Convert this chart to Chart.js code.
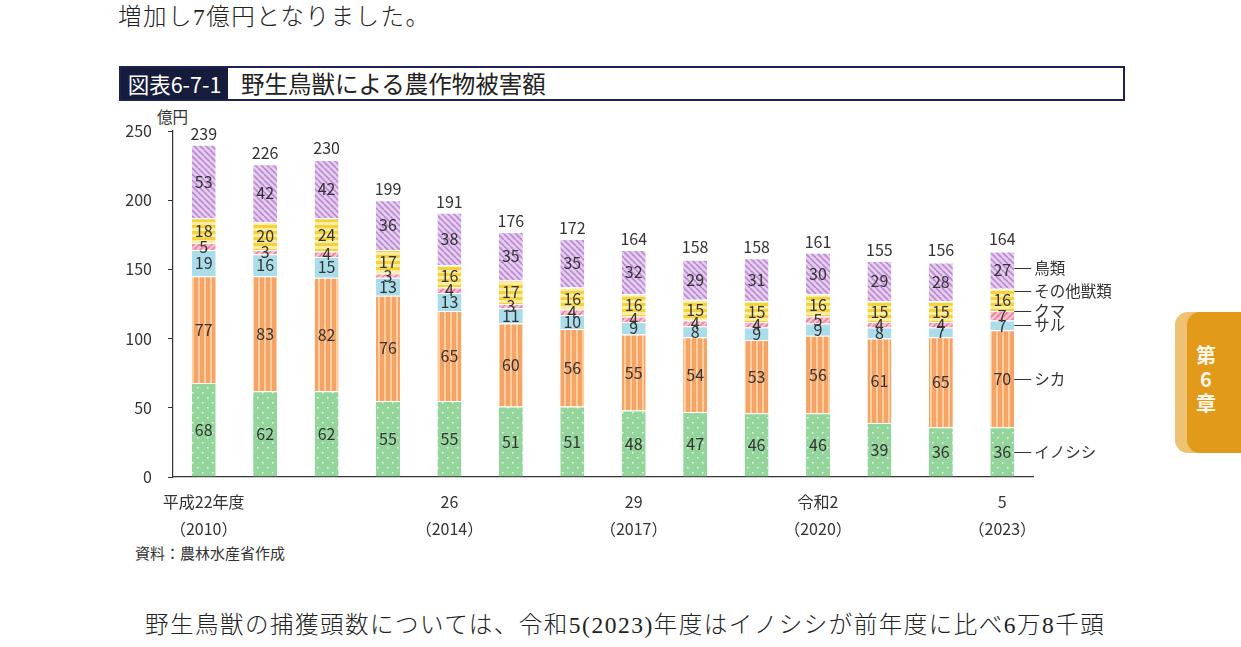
<!DOCTYPE html>
<html lang="ja">
<head>
<meta charset="utf-8">
<script src="https://cdn.jsdelivr.net/npm/chart.js@4"></script>
<style>
  html, body { margin: 0; padding: 0; background: #fff; }
  body { width: 1241px; height: 647px; position: relative; overflow: hidden; }
  .txt { position: absolute; white-space: nowrap; color: #222; }
  .serif { font-family: "Liberation Serif", "DejaVu Serif", "Noto Sans CJK JP", serif; font-size: 23.5px; font-weight: 300; letter-spacing: 1.5px; }
  .sans { font-family: "Noto Sans CJK JP", sans-serif; }
  #titlebox { position: absolute; left: 119px; top: 66px; width: 1002px; height: 31px; border: 2px solid #1b2352; }
  #titlebox .tag { position: absolute; left: 0; top: 0; height: 31px; width: 107px; background: #161c3c; color: #fff;
    font-family: "Noto Sans CJK JP", sans-serif; font-size: 21.5px; line-height: 31px; text-align: center; }
  #titlebox .name { position: absolute; left: 120px; top: 0; line-height: 31px; font-family: "Noto Sans CJK JP", sans-serif; font-size: 23.5px; color: #222; }
  #tab1 { position: absolute; left: 1175px; top: 312px; width: 80px; height: 141px; background: #efc173; border-radius: 13px; }
  #tab2 { position: absolute; left: 1187px; top: 312px; width: 80px; height: 141px; background: #e29a1a; border-radius: 13px; }
  #tabtext { position: absolute; left: 1192px; top: 343px; width: 28px; text-align: center; color: #fff8ea;
    font-family: "Noto Sans CJK JP", sans-serif; font-weight: bold; font-size: 20px; line-height: 24px; }
  canvas { position: absolute; left: 0; top: 0; }
</style>
</head>
<body>
<div class="txt serif" style="left:118px; top:-2px;">増加し7億円となりました。</div>
<div id="titlebox"><div class="tag">図表6-7-1</div><div class="name">野生鳥獣による農作物被害額</div></div>
<div class="txt sans" style="left:157px; top:105px; font-size:15.5px; color:#333;">億円</div>
<div class="txt sans" style="left:135px; top:542px; font-size:15px; color:#333;">資料：農林水産省作成</div>
<div class="txt serif" style="left:145px; top:606px;">野生鳥獣の捕獲頭数については、令和5(2023)年度はイノシシが前年度に比べ6万8千頭</div>
<div id="tab1"></div><div id="tab2"></div>
<div id="tabtext">第<br>6<br>章</div>
<canvas id="chart" width="1241" height="647"></canvas>
<script>
// 年度ラベル（2段表示）
const years = [
  ["平成22年度", "（2010）"], "", "", "",
  ["26", "（2014）"], "", "",
  ["29", "（2017）"], "", "",
  ["令和2", "（2020）"], "", "",
  ["5", "（2023）"]
];
const seriesNames = ["イノシシ", "シカ", "サル", "クマ", "その他獣類", "鳥類"];

// 被害額（億円）
const inoshishi = [68, 62, 62, 55, 55, 51, 51, 48, 47, 46, 46, 39, 36, 36];
const shika = [77, 83, 82, 76, 65, 60, 56, 55, 54, 53, 56, 61, 65, 70];
const saru = [19, 16, 15, 13, 13, 11, 10, 9, 8, 9, 9, 8, 7, 7];
const kuma = [5, 3, 4, 3, 4, 3, 4, 4, 4, 4, 5, 4, 4, 7];
const sonota = [18, 20, 24, 17, 16, 17, 16, 16, 15, 15, 16, 15, 15, 16];
const chorui = [53, 42, 42, 36, 38, 35, 35, 32, 29, 31, 30, 29, 28, 27];
const totals = [239, 226, 230, 199, 191, 176, 172, 164, 158, 158, 161, 155, 156, 164];

const yTicks = [0, 50, 100, 150, 200, 250];

const FONT = '"Noto Sans CJK JP", sans-serif';
const TEXT = "#333";

// --- patterns ---
function tile(size, draw) {
  const c = document.createElement("canvas");
  c.width = size; c.height = size;
  draw(c.getContext("2d"), size);
  return c.getContext("2d").createPattern(c, "repeat");
}
function dots(base, dot) {
  return tile(10, (g, s) => {
    g.fillStyle = base; g.fillRect(0, 0, s, s);
    g.fillStyle = dot;
    g.fillRect(2, 2, 1.5, 1.5);
    g.fillRect(7, 7, 1.5, 1.5);
  });
}
function vstripes(base, stripe) {
  return tile(6, (g, s) => {
    g.fillStyle = base; g.fillRect(0, 0, s, s);
    g.fillStyle = stripe; g.fillRect(0, 0, 2, s);
  });
}
function hstripes(base, stripe) {
  return tile(6, (g, s) => {
    g.fillStyle = base; g.fillRect(0, 0, s, s);
    g.fillStyle = stripe; g.fillRect(0, 0, s, 3);
  });
}
function diag(base, line, dir) {
  return tile(6, (g, s) => {
    g.fillStyle = base; g.fillRect(0, 0, s, s);
    g.strokeStyle = line; g.lineWidth = 1.6;
    for (const o of [-s, 0, s]) {
      g.beginPath();
      if (dir > 0) { g.moveTo(o, s); g.lineTo(o + s, 0); }
      else { g.moveTo(o, 0); g.lineTo(o + s, s); }
      g.stroke();
    }
  });
}

const fills = [
  dots("#93d59b", "rgba(255,255,255,0.85)"),
  vstripes("#f5a367", "#fccf9c"),
  "#aadcea",
  diag("#f8c3d1", "#ee7f9e", 1),
  hstripes("#f5d23c", "#fbeea4"),
  diag("#e6cdf0", "#b98ad2", -1)
];
const values = [inoshishi, shika, saru, kuma, sonota, chorui];

// 数値・合計・系列名の描画
const labelPlugin = {
  id: "labels",
  afterDatasetsDraw(chart) {
    const ctx = chart.ctx;
    ctx.save();
    ctx.fillStyle = TEXT;
    ctx.textAlign = "center";
    ctx.textBaseline = "middle";
    ctx.font = "16px " + FONT;
    chart.data.datasets.forEach((ds, di) => {
      const meta = chart.getDatasetMeta(di);
      meta.data.forEach((bar, i) => {
        ctx.fillText(String(ds.data[i]), bar.x, (bar.y + bar.base) / 2);
      });
    });
    // totals
    const top = chart.getDatasetMeta(chart.data.datasets.length - 1);
    ctx.font = "16px " + FONT;
    ctx.textBaseline = "bottom";
    top.data.forEach((bar, i) => {
      ctx.fillText(String(totals[i]), bar.x, Math.min(bar.y, chart.scales.y.getPixelForValue(totals[i])) - 3);
    });
    // series names beside last bar
    const nudge = [0, 0, 0, -5, -9, -2];
    ctx.font = "15.5px " + FONT;
    ctx.textAlign = "left";
    ctx.textBaseline = "middle";
    ctx.strokeStyle = TEXT;
    ctx.lineWidth = 1;
    chart.data.datasets.forEach((ds, di) => {
      const meta = chart.getDatasetMeta(di);
      const bar = meta.data[meta.data.length - 1];
      const y = Math.round((bar.y + bar.base) / 2 + nudge[di]) + 0.5;
      const x0 = bar.x + bar.width / 2;
      ctx.beginPath();
      ctx.moveTo(x0, y);
      ctx.lineTo(x0 + 17, y);
      ctx.stroke();
      ctx.fillText(ds.label, x0 + 20, y);
    });
    ctx.restore();
  }
};

new Chart(document.getElementById("chart"), {
  type: "bar",
  data: {
    labels: years,
    datasets: seriesNames.map((name, k) => ({
      label: name,
      data: values[k],
      backgroundColor: fills[k],
      borderColor: "#ffffff",
      borderWidth: { top: 1, left: 0, right: 0, bottom: 0 },
      borderSkipped: false,
      barPercentage: 0.39,
      categoryPercentage: 1
    }))
  },
  options: {
    responsive: false,
    animation: false,
    devicePixelRatio: 1,
    layout: { padding: { left: 123, right: 208, top: 131, bottom: 90 } },
    plugins: {
      legend: { display: false },
      tooltip: { enabled: false }
    },
    scales: {
      x: {
        stacked: true,
        grid: { display: true, drawOnChartArea: false, drawTicks: false },
        border: { display: true, color: "#333", width: 1.2 },
        ticks: {
          autoSkip: false,
          maxRotation: 0,
          color: TEXT,
          padding: 11,
          font: { family: FONT, size: 16, lineHeight: 1.7 }
        },
        afterFit(scale) { scale.height = 80; }
      },
      y: {
        stacked: true,
        min: 0,
        max: 250,
        afterBuildTicks(scale) { scale.ticks = yTicks.map(v => ({ value: v })); },
        grid: { drawOnChartArea: false, drawTicks: true, tickLength: 5, color: "#333" },
        border: { display: true, color: "#333", width: 1.2 },
        ticks: {
          color: TEXT,
          padding: 16,
          font: { family: FONT, size: 16 }
        },
        afterFit(scale) { scale.width = 50; }
      }
    }
  },
  plugins: [labelPlugin]
});
</script>
</body>
</html>
